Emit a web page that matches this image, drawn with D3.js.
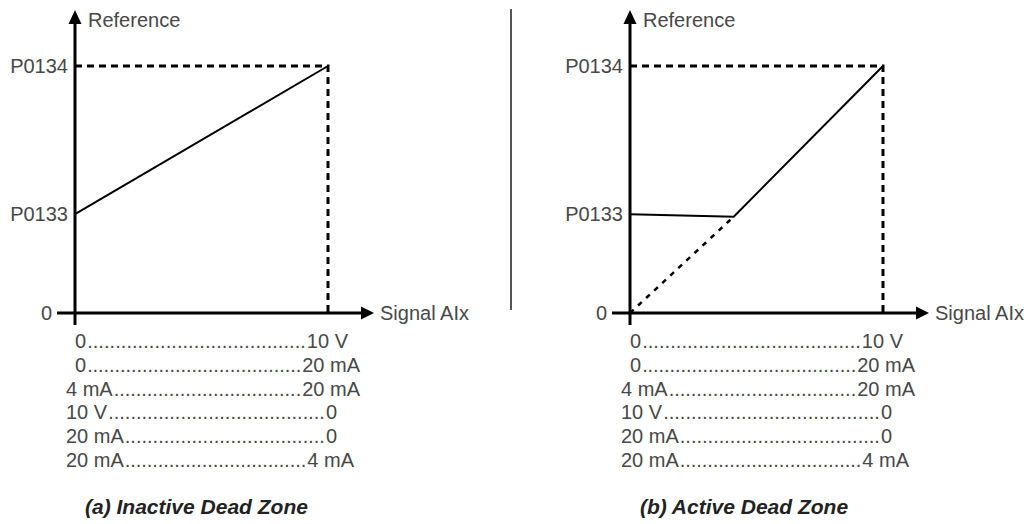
<!DOCTYPE html>
<html>
<head>
<meta charset="utf-8">
<script src="https://cdn.jsdelivr.net/npm/d3@7"></script>
<style>
	body { margin: 0; background: #fff; }
	text { font-family: "Liberation Sans", Arial, sans-serif; }
	.lbl { font-size: 20px; fill: #484848; }
	.title { font-size: 21px; font-weight: bold; font-style: italic; fill: #222; }
</style>
</head>
<body>
<div id="chart"></div>
<script>

// reference levels (fraction of full scale)
var levelNames = ["0", "P0133", "P0134"];
var levelValues = [0, 0.4, 1];

// (a) inactive dead zone: straight line P0133 -> P0134
var inactiveX = [0, 1];
var inactiveY = [0.4, 1];

// (b) active dead zone: flat at P0133 then up to P0134
var activeX = [0, 0.41, 1];
var activeY = [0.4, 0.39, 1];
var deadZoneX = [0, 0.41];
var deadZoneY = [0, 0.39];

// signal ranges listed under the x axis
var rangeStart = ["0", "0", "4 mA", "10 V", "20 mA", "20 mA"];
var rangeEnd = ["10 V", "20 mA", "20 mA", "0", "0", "4 mA"];
var rangeEndPos = [273, 285, 285, 262, 262, 279];

var titles = ["(a) Inactive Dead Zone", "(b) Active Dead Zone"];

var width = 1029, height = 524;

var svg = d3.select("#chart").append("svg")
	.attr("width", width)
	.attr("height", height);

var panel = function(originX, solidX, solidY, dashX, dashY, title) {

	var x = d3.scaleLinear().domain([0, 1]).range([originX, originX + 253]);
	var y = d3.scaleLinear().domain([0, 1]).range([313, 66]);

	var g = svg.append("g");

	// guide lines to P0134 level
	g.append("path")
	.attr("d", "M" + x(0) + "," + y(1) + "H" + x(1) + "V" + y(0))
	.attr("fill", "none")
	.attr("stroke", "#000")
	.attr("stroke-width", 3)
	.attr("stroke-dasharray", "7,5");

	// x axis with arrow
	g.append("line")
	.attr("x1", x(0) - 18).attr("x2", x(1) + 35)
	.attr("y1", y(0)).attr("y2", y(0))
	.attr("stroke", "#000").attr("stroke-width", 3);
	g.append("path")
	.attr("d", "M" + (x(1) + 46) + "," + y(0) + "l-13,-6.5v13z")
	.attr("fill", "#000");
	g.append("text")
	.attr("class", "lbl")
	.attr("x", x(1) + 52).attr("y", y(0) + 7)
	.text("Signal AIx");

	// y axis with arrow
	g.append("line")
	.attr("x1", x(0)).attr("x2", x(0))
	.attr("y1", y(0) + 12).attr("y2", 22)
	.attr("stroke", "#000").attr("stroke-width", 3);
	g.append("path")
	.attr("d", "M" + x(0) + ",10l-6.5,14h13z")
	.attr("fill", "#000");
	g.append("text")
	.attr("class", "lbl")
	.attr("x", x(0) + 13).attr("y", 27)
	.text("Reference");

	// level labels
	g.selectAll("text.level")
	.data(levelValues)
	.enter()
	.append("text")
	.attr("class", "lbl level")
	.attr("text-anchor", "end")
	.attr("x", function(d) { return d === 0 ? x(0) - 23 : x(0) - 7; })
	.attr("y", function(d) { return y(d) + 7; })
	.text(function(d, i) { return levelNames[i]; });

	var line = d3.line()
	.x(function(d) { return x(d[0]); })
	.y(function(d) { return y(d[1]); });

	if (dashX) {
		g.append("path")
		.attr("d", line(d3.zip(dashX, dashY)))
		.attr("fill", "none")
		.attr("stroke", "#000")
		.attr("stroke-width", 2.5)
		.attr("stroke-dasharray", "5,6");
	}

	g.append("path")
	.attr("d", line(d3.zip(solidX, solidY)))
	.attr("fill", "none")
	.attr("stroke", "#000")
	.attr("stroke-width", 2);

	// range list
	var row = d3.scalePoint().domain(d3.range(rangeStart.length)).range([348, 467]);

	rangeStart.forEach(function(s, i) {
		var x0 = s === "0" ? x(0) : x(0) - 9;
		var a = g.append("text").attr("class", "lbl")
			.attr("x", x0).attr("y", row(i)).text(s);
		var b = g.append("text").attr("class", "lbl")
			.attr("text-anchor", "end")
			.attr("x", x(0) + rangeEndPos[i]).attr("y", row(i)).text(rangeEnd[i]);
		var left = x0 + a.node().getComputedTextLength() + 1;
		var right = x(0) + rangeEndPos[i] - b.node().getComputedTextLength() - 1;
		var n = Math.round((right - left) / 5.56);
		g.append("text").attr("class", "lbl")
		.attr("x", left).attr("y", row(i))
		.attr("textLength", right - left)
		.attr("lengthAdjust", "spacing")
		.text(d3.range(n).map(function() { return "."; }).join(""));
	});

	g.append("text")
	.attr("class", "title")
	.attr("x", x(0) + 10).attr("y", 514)
	.text(title);

}

panel(75, inactiveX, inactiveY, null, null, titles[0]);
panel(630, activeX, activeY, deadZoneX, deadZoneY, titles[1]);

// divider between the two panels
svg.append("line")
.attr("x1", 511).attr("x2", 511)
.attr("y1", 9).attr("y2", 310)
.attr("stroke", "#555").attr("stroke-width", 2);

</script>
</body>
</html>
